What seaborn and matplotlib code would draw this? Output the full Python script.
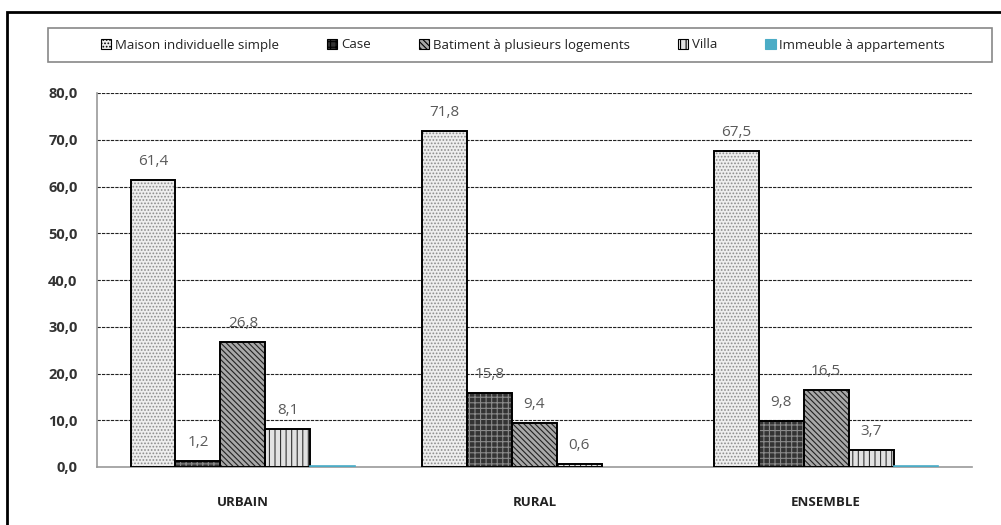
import matplotlib
matplotlib.use("Agg")
import matplotlib.pyplot as plt
from matplotlib.patches import Rectangle, Patch
from matplotlib.ticker import FixedLocator
import seaborn as sns
import pandas as pd

# données (pourcentages)
milieux = ["URBAIN", "RURAL", "ENSEMBLE"]
types_logement = ["Maison individuelle simple", "Case", "Batiment à plusieurs logements",
                  "Villa", "Immeuble à appartements"]
maison = [61.4, 71.8, 67.5]
case = [1.2, 15.8, 9.8]
batiment = [26.8, 9.4, 16.5]
villa = [8.1, 0.6, 3.7]
immeuble = [0.3, 0.0, 0.2]
y_ticks = [0, 10, 20, 30, 40, 50, 60, 70, 80]

series = [maison, case, batiment, villa, immeuble]
rows = []
for t, vals in zip(types_logement, series):
    for m, v in zip(milieux, vals):
        rows.append({"milieu": m, "type": t, "valeur": v})
df = pd.DataFrame(rows)

faces = ["#eeeeee", "#333333", "#a8a8a8", "#e2e2e2", "#4bacc6"]
hatches = [".....", "+++", "\\\\\\\\\\\\", "|||", ""]
hatch_cols = ["#8c8c8c", "#8a8a8a", "#222222", "#333333", "#4bacc6"]

sns.set_style("white")
plt.rcParams["font.family"] = ["Open Sans", "DejaVu Sans"]
plt.rcParams["hatch.linewidth"] = 0.8

fig = plt.figure(figsize=(10.01, 5.25), dpi=100)
ax = fig.add_axes([97 / 1001, 1 - 467 / 525, (972 - 97) / 1001, (467 - 93) / 525])

sns.barplot(data=df, x="milieu", y="valeur", hue="type", order=milieux,
            hue_order=types_logement, palette=faces, width=0.77, gap=0,
            saturation=1, legend=False, ax=ax)

for i, cont in enumerate(ax.containers):
    for p in cont.patches:
        p.set_hatch(hatches[i])
        p.set_edgecolor(hatch_cols[i])
        p.set_linewidth(0)
        if i < 4:
            ax.add_patch(Rectangle((p.get_x(), 0), p.get_width(), p.get_height(),
                                   fill=False, edgecolor="black", lw=1.4, zorder=3))
        elif p.get_height() > 0:
            p.set_linewidth(1.2)
            p.set_zorder(4)
    if i < 4:
        labels = [f"{v:.1f}".replace(".", ",") for v in cont.datavalues]
        ax.bar_label(cont, labels=labels, padding=8, fontsize=11, color="#5a5a5a")

ax.set_ylim(0, 80)
ax.set_xlim(-0.5, 2.5)
ax.yaxis.set_major_locator(FixedLocator(y_ticks))
ax.set_yticklabels([f"{v:.1f}".replace(".", ",") for v in y_ticks],
                   fontsize=10.5, fontweight="bold", color="#333333")
ax.tick_params(axis="y", direction="inout", length=8, width=0.8, color="#888888", pad=10)
ax.tick_params(axis="x", which="major", length=0, pad=21)
ax.set_xticks([0.5, 1.5, 2.5], minor=True)
ax.tick_params(axis="x", which="minor", direction="out", length=5, width=1, color="#999999")
for lab in ax.get_xticklabels():
    lab.set_fontsize(9.5)
    lab.set_fontweight("bold")
    lab.set_color("#222222")
ax.set_xlabel("")
ax.set_ylabel("")

for yv in y_ticks[1:]:
    ax.axhline(yv, color="#222222", lw=0.8, ls=(0, (3, 1)), zorder=0.5)

for s in ["top", "right"]:
    ax.spines[s].set_visible(False)
for s in ["left", "bottom"]:
    ax.spines[s].set_color("#999999")
    ax.spines[s].set_linewidth(1.2)

# légende
handles = [Patch(facecolor=faces[i], hatch=hatches[i],
                 edgecolor="black" if i < 4 else faces[i], lw=0.8)
           for i in range(5)]
leg = fig.legend(handles, types_logement, loc="center", ncol=5,
                 bbox_to_anchor=(523 / 1001, 1 - 45 / 525), frameon=False,
                 fontsize=9.5, handlelength=0.8, handleheight=0.8,
                 handletextpad=0.3, columnspacing=3.6, labelcolor="#222222")

fig.patches.append(Rectangle((48 / 1001, 1 - 62 / 525), (992 - 48) / 1001, 34 / 525,
                             transform=fig.transFigure, fill=False,
                             edgecolor="#888888", lw=1.2))
# cadre extérieur
fig.patches.append(Rectangle((7 / 1001, -0.2), 1.2, 1.2 - 12 / 525,
                             transform=fig.transFigure, fill=False,
                             edgecolor="black", lw=2))

fig.savefig("out.png", dpi=100)
